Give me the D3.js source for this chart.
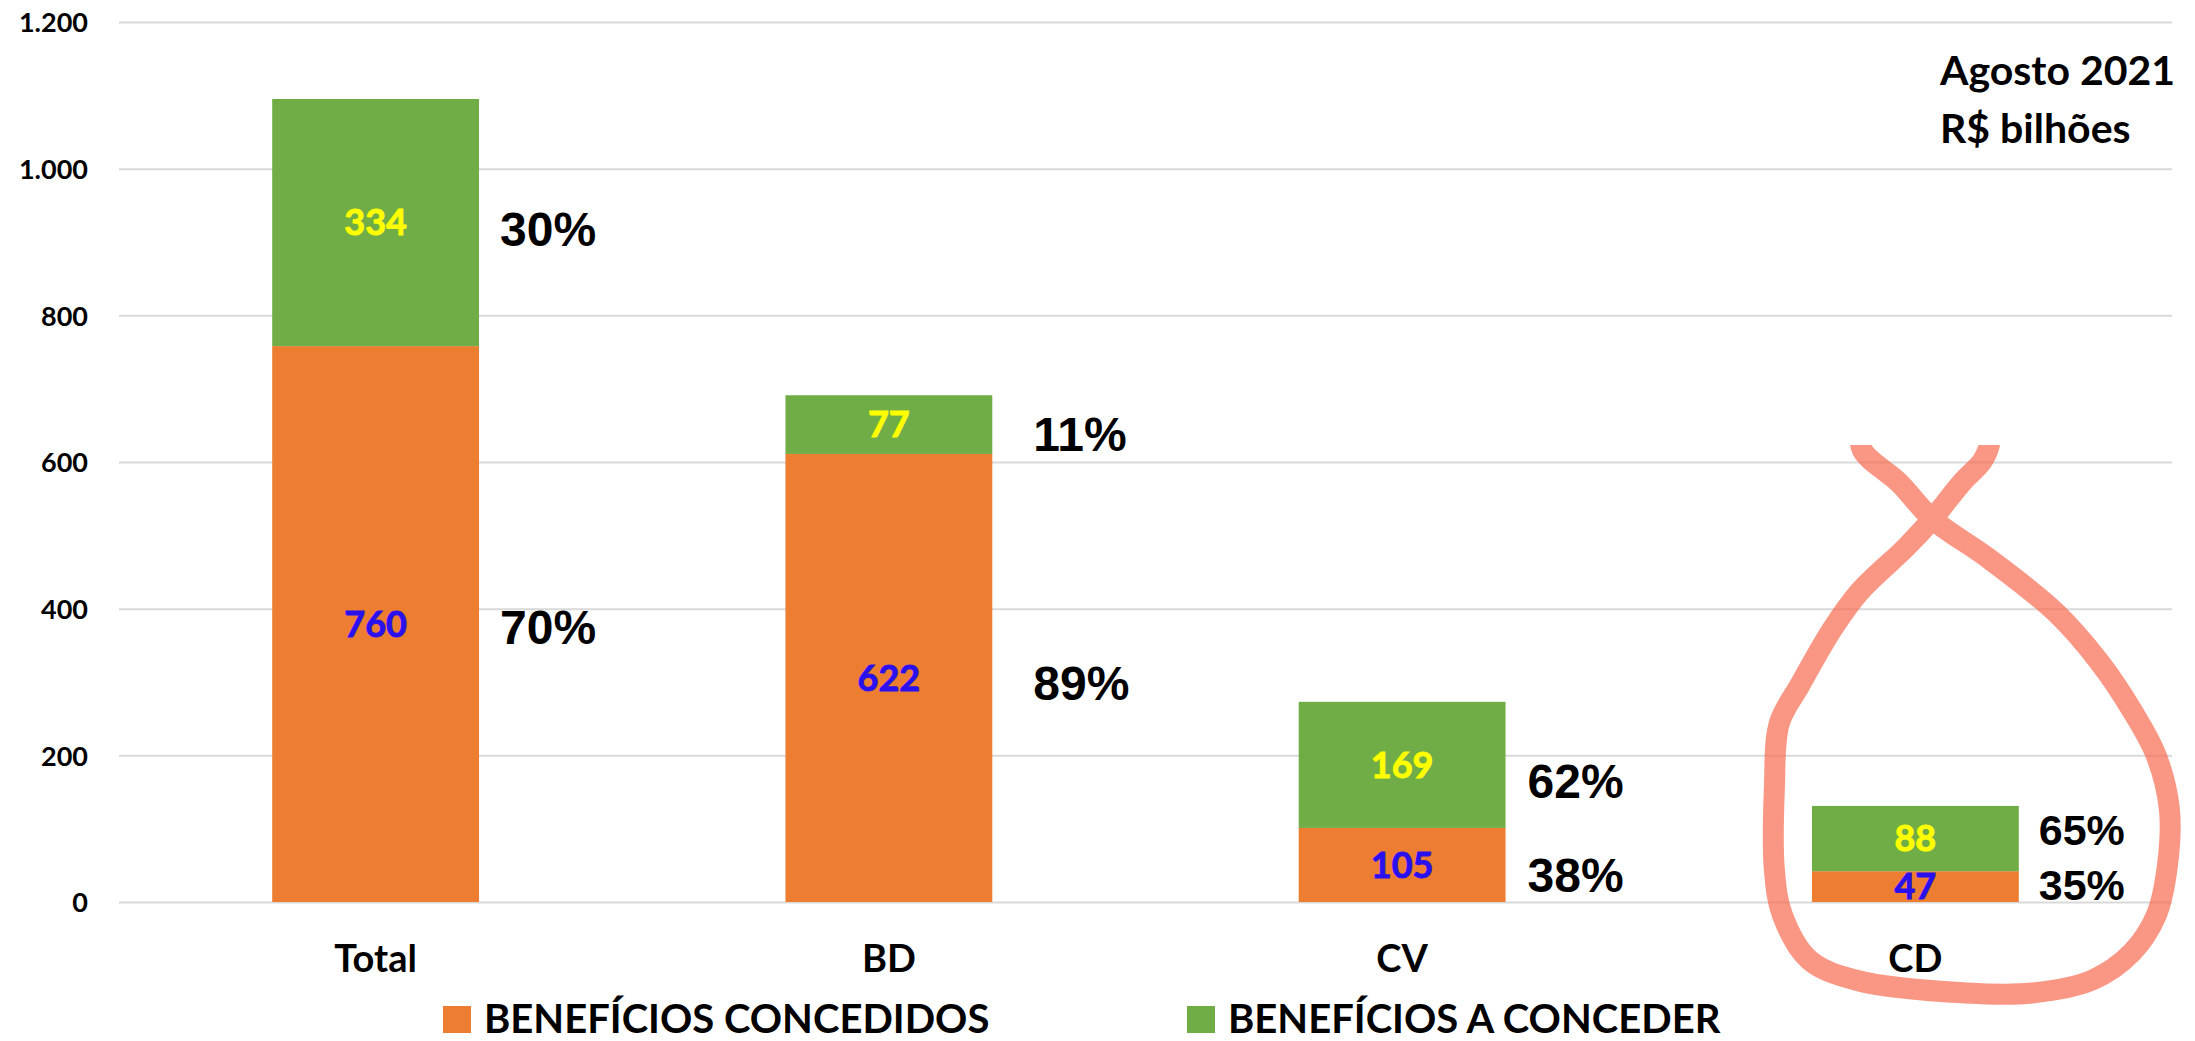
<!DOCTYPE html>
<html>
<head>
<meta charset="utf-8">
<script src="https://cdn.jsdelivr.net/npm/d3@7"></script>
<style>
  html, body { margin: 0; padding: 0; background: #fff; }
  svg { display: block; }
  .calib { font-family: Lato, Carlito, "Open Sans", sans-serif; font-weight: 700; }
  .arial { font-family: "Liberation Sans", Arial, sans-serif; font-weight: 700; }
</style>
</head>
<body>
<div id="chart"></div>
<script>
// ---- data ----
const categories = ["Total", "BD", "CV", "CD"];
// bar heights as drawn in the picture
const concedidos = [758, 611, 101, 42];
const aConceder = [337, 80, 172, 89];
// labels as printed on the bars
const labelConcedidos = ["760", "622", "105", "47"];
const labelAConceder = ["334", "77", "169", "88"];
const pctConcedidos = ["70%", "89%", "38%", "35%"];
const pctAConceder = ["30%", "11%", "62%", "65%"];
const yTicks = [0, 200, 400, 600, 800, 1000, 1200];
const seriesNames = ["BENEFÍCIOS CONCEDIDOS", "BENEFÍCIOS A CONCEDER"];
const titleLines = ["Agosto 2021", "R$ bilhões"];

// ---- layout ----
const width = 2195, height = 1041;
const plot = { left: 119, right: 2172, top: 22, bottom: 902 };
const colors = { concedidos: "#ED7D31", aConceder: "#70AD47" };
const valueColors = { concedidos: "#2B10EE", aConceder: "#FFFF00" };
// the percentage labels were placed by hand in the original
const pctDx = [21, 41, 22, 20];
const pctFont = [48, 48, 48, 43];
const nudgeTop = [6, 9, 16, -9];
const nudgeBottom = [3, 5, 10, -2];

////////////////////////////////////////////////////////////////////////////////////

const table = categories.map((c, i) => ({
  cat: c,
  concedidos: concedidos[i],
  aConceder: aConceder[i],
  label: { concedidos: labelConcedidos[i], aConceder: labelAConceder[i] },
  pct: { concedidos: pctConcedidos[i], aConceder: pctAConceder[i] }
}));
const keys = ["concedidos", "aConceder"];
const stacked = d3.stack().keys(keys)(table);

const svg = d3.select("#chart").append("svg").attr("width", width).attr("height", height);

const x = d3.scaleBand().domain(categories).range([plot.left, plot.right]).paddingInner(0.597).paddingOuter(0.2985);
const y = d3.scaleLinear().domain([0, 1200]).range([plot.bottom, plot.top]);

const fmt = d3.formatLocale({ decimal: ",", thousands: ".", grouping: [3], currency: ["R$", ""] }).format(",d");

// gridlines + y labels
const yAxis = svg
  .append("g")
  .attr("transform", `translate(${plot.left},0)`)
  .call(d3.axisLeft(y).tickValues(yTicks).tickFormat(fmt).tickSize(-(plot.right - plot.left)).tickPadding(31));
yAxis.select(".domain").remove();
yAxis.selectAll(".tick line").attr("stroke", "#d9d9d9").attr("stroke-width", 2);
yAxis
  .selectAll(".tick text")
  .attr("class", "calib")
  .attr("fill", "#000")
  .style("font-size", "27px")
  .attr("dy", "0.36em");

// bars
const bw = x.bandwidth();
const layer = svg
  .append("g")
  .selectAll("g")
  .data(stacked)
  .enter()
  .append("g")
  .attr("fill", (d) => colors[d.key]);

layer
  .selectAll("rect")
  .data((d) => d)
  .enter()
  .append("rect")
  .attr("x", (d) => x(d.data.cat))
  .attr("y", (d) => y(d[1]))
  .attr("width", bw)
  .attr("height", (d) => y(d[0]) - y(d[1]));

// value labels inside bars
stacked.forEach((s) => {
  svg
    .append("g")
    .selectAll("text")
    .data(s)
    .enter()
    .append("text")
    .attr("class", "calib")
    .attr("text-anchor", "middle")
    .style("font-size", "36px")
    .attr("fill", valueColors[s.key])
    .attr("stroke", valueColors[s.key])
    .attr("stroke-width", 0.9)
    .attr("x", (d) => x(d.data.cat) + bw / 2)
    .attr("y", (d) => (y(d[0]) + y(d[1])) / 2 + 0.358 * 36)
    .text((d) => d.data.label[s.key]);
});

// percentage labels to the right of bars
stacked.forEach((s) => {
  const nudge = s.key === "concedidos" ? nudgeBottom : nudgeTop;
  svg
    .append("g")
    .selectAll("text")
    .data(s)
    .enter()
    .append("text")
    .attr("class", "arial")
    .attr("fill", "#000")
    .style("font-size", (d, i) => pctFont[i] + "px")
    .attr("x", (d, i) => x(d.data.cat) + bw + pctDx[i])
    .attr("y", (d, i) => (y(d[0]) + y(d[1])) / 2 + 0.358 * pctFont[i] + nudge[i])
    .text((d) => d.data.pct[s.key]);
});

// category axis
const xAxis = svg
  .append("g")
  .attr("transform", `translate(0,${plot.bottom})`)
  .call(d3.axisBottom(x).tickSize(0));
xAxis.select(".domain").remove();
xAxis
  .selectAll(".tick text")
  .attr("class", "calib")
  .attr("fill", "#000")
  .style("font-size", "38px")
  .attr("y", 70)
  .attr("dy", null);

// title
svg
  .append("g")
  .selectAll("text")
  .data(titleLines)
  .enter()
  .append("text")
  .attr("class", "calib")
  .style("font-size", "41px")
  .attr("x", 1940)
  .attr("y", (d, i) => 85 + i * 58)
  .text((d) => d);

// legend
const legendX = [443, 1187];
const legend = svg
  .append("g")
  .selectAll("g")
  .data(keys)
  .enter()
  .append("g")
  .attr("transform", (d, i) => `translate(${legendX[i]},1006)`);
legend.append("rect").attr("width", 28).attr("height", 27).attr("fill", (d) => colors[d]);
legend
  .append("text")
  .attr("class", "calib")
  .style("font-size", "40px")
  .attr("x", 41)
  .attr("y", 27)
  .text((d, i) => seriesNames[i]);

////////////////////////////////////////////////////////////////////////////////////
// hand-drawn annotation around CD (offsets from CD bar centre / zero line)

const markOffsets = [
  [-55, -475], [-53, -452], [-16, -419], [17, -383], [74, -343], [141, -289], [184, -240],
  [217, -191], [241, -146], [254, -93], [252, -36], [241, 13], [217, 50], [177, 78],
  [117, 91], [51, 91], [-56, 79], [-106, 58], [-133, 13], [-141, -32], [-141, -114],
  [-136, -179], [-116, -216], [-83, -273], [-56, -310], [-9, -355], [17, -383], [47, -420],
  [67, -441], [74, -457], [75, -480]
];
const cx = x("CD") + bw / 2;
const cy = y(0);
const markLine = d3.line().x((d) => cx + d[0]).y((d) => cy + d[1]).curve(d3.curveCatmullRom.alpha(0.5));

svg
  .append("defs")
  .append("clipPath")
  .attr("id", "markClip")
  .append("rect")
  .attr("x", 0)
  .attr("y", 445)
  .attr("width", width)
  .attr("height", height - 445);

svg
  .append("path")
  .attr("clip-path", "url(#markClip)")
  .attr("d", markLine(markOffsets))
  .attr("fill", "none")
  .attr("stroke", "#f86a50")
  .attr("stroke-opacity", 0.7)
  .attr("stroke-width", 21)
  .attr("stroke-linejoin", "round");
</script>
</body>
</html>
